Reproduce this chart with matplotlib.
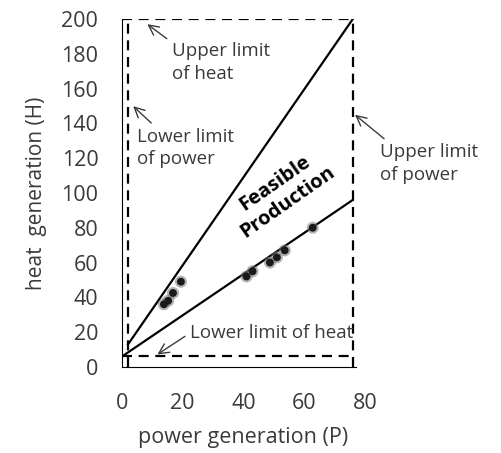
import matplotlib
matplotlib.use('Agg')
import matplotlib.pyplot as plt
import numpy as np

plt.rcParams['font.family'] = ['Open Sans', 'DejaVu Sans']

# limits of the feasible region
p_min, p_max = 2, 76
h_min, h_max = 6, 200

# boundary lines (P, H)
upper_line_p = [2, 76]
upper_line_h = [13, 200]
lower_line_p = [0, 76]
lower_line_h = [6, 96]

# operating points
pts_p = [13.8, 15.2, 16.8, 19.4, 41, 43, 48.7, 51, 53.6, 62.8]
pts_h = [36, 38, 42.5, 49, 52, 55, 60, 63, 67, 80]

x_ticks = [0, 20, 40, 60, 80]
y_ticks = [0, 20, 40, 60, 80, 100, 120, 140, 160, 180, 200]

txt = '#3a3a3a'
fig = plt.figure(figsize=(5.02, 4.53), dpi=100)
ax = fig.add_axes([0.243, 0.190, 0.484, 0.768])

dash = dict(color='black', lw=1.6, ls=(0, (4.5, 3)))
ax.plot([p_min, p_min], [0, h_max], **dash)
ax.plot([p_max, p_max], [0, h_max], **dash)
ax.plot([0, p_max], [h_max, h_max], **dash)
ax.plot([0, p_max], [h_min, h_min], **dash)

ax.plot(upper_line_p, upper_line_h, color='black', lw=1.6)
ax.plot(lower_line_p, lower_line_h, color='black', lw=1.6)

ax.scatter(pts_p, pts_h, s=75, color='#777777', alpha=0.55, edgecolors='none', zorder=3)
ax.scatter(pts_p, pts_h, s=32, color='#1a1a1a', edgecolors='none', zorder=4)

ax.set_xlim(0, 80)
ax.set_ylim(0, 200)
ax.set_xticks(x_ticks)
ax.set_yticks(y_ticks)
ax.tick_params(length=0, labelsize=15.5, labelcolor=txt)
ax.tick_params(axis='y', pad=17)
ax.tick_params(axis='x', pad=19)
for s in ['top', 'right']:
    ax.spines[s].set_visible(False)
ax.spines['bottom'].set_bounds(0, 77)
ax.spines['left'].set_linewidth(0.8)
ax.spines['bottom'].set_linewidth(0.8)

ax.set_xlabel('power generation (P)', fontsize=15.5, color=txt, labelpad=9)
ax.set_ylabel('heat  generation (H)', fontsize=15, color=txt, labelpad=10)

arrow = dict(arrowstyle='->', color=txt, lw=1.0, mutation_scale=18)
fs = 13.5
ls = 1.3
ax.annotate('Upper limit\nof heat', xy=(7.6, 198), xytext=(16.4, 175),
            fontsize=fs, color=txt, va='center', ha='left', linespacing=ls,
            arrowprops=dict(arrow, relpos=(0, 1)))
ax.annotate('Lower limit\nof power', xy=(3, 151), xytext=(4.9, 126),
            fontsize=fs, color=txt, va='center', ha='left', linespacing=ls,
            arrowprops=dict(arrow, relpos=(0.2, 1)))
ax.annotate('Upper limit\nof power', xy=(76, 146), xytext=(84.9, 117),
            fontsize=fs, color=txt, va='center', ha='left', linespacing=ls,
            annotation_clip=False, arrowprops=dict(arrow, relpos=(0.1, 1)))
ax.annotate('Lower limit of heat', xy=(10.9, 6.3), xytext=(22.4, 19.5),
            fontsize=fs, color=txt, va='center', ha='left',
            arrowprops=dict(arrow, relpos=(0, 0.5)))

ax.text(52.5, 100, 'Feasible\nProduction', rotation=35, fontsize=14.5, fontweight='bold',
        ha='center', va='center', rotation_mode='anchor', linespacing=1.15)

fig.savefig('out.png', dpi=100)
